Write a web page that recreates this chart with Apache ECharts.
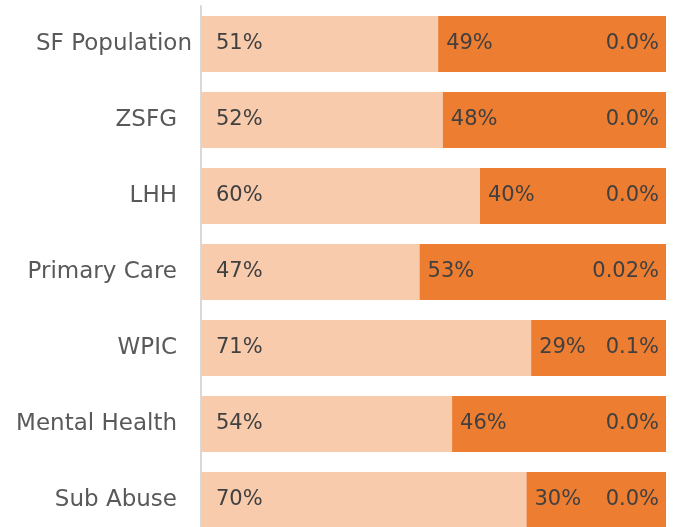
<!DOCTYPE html>
<html>
<head>
<meta charset="utf-8">
<script src="https://cdn.jsdelivr.net/npm/echarts@6/dist/echarts.min.js"></script>
<style>
  html, body { margin: 0; padding: 0; background: #fff; }
  #chart { width: 673px; height: 527px; }
</style>
</head>
<body>
<div id="chart"></div>
<script>
var categories = ["SF Population", "ZSFG", "LHH", "Primary Care", "WPIC", "Mental Health", "Sub Abuse"];
var shareA = [51, 52, 60, 47, 71, 54, 70];
var shareB = [49, 48, 40, 53, 29, 46, 30];
var shareC = [0.0, 0.0, 0.0, 0.02, 0.1, 0.0, 0.0];

var font = "DejaVu Sans";
var chart = echarts.init(document.getElementById("chart"));

// first category label sits a bit further right in the original
var yData = categories.map(function (c, i) {
  return i === 0 ? { value: c, textStyle: { padding: [0, -15, 0, 0] } } : c;
});

// the top "0.0%" label has a leader line in the original
var cData = shareC.map(function (v, i) {
  return i === 0 ? { value: v, labelLine: { show: true, lineStyle: { color: "#a6a6a6", width: 1.5 } } } : v;
});

var pct = function (p) { return p.value + "%"; };

var option = {
  animation: false,
  grid: {
    left: 201, right: 7, top: 6, height: 532,
    containLabel: false,
    outerBoundsMode: "none"
  },
  xAxis: {
    type: "value",
    min: 0,
    max: 100,
    show: false
  },
  yAxis: {
    type: "category",
    inverse: true,
    data: yData,
    axisTick: { show: false },
    axisLine: { show: true, lineStyle: { color: "#d9d9d9", width: 2 } },
    axisLabel: {
      margin: 24,
      fontFamily: font,
      fontSize: 23,
      color: "#595959"
    }
  },
  series: [
    {
      type: "bar",
      stack: "total",
      barWidth: "74%",
      data: shareA,
      itemStyle: { color: "#F8CBAD" },
      label: {
        show: true,
        position: "insideLeft",
        distance: 15,
        fontFamily: font,
        fontSize: 21,
        color: "#404040",
        formatter: pct
      }
    },
    {
      type: "bar",
      stack: "total",
      data: shareB,
      itemStyle: { color: "#ED7D31" },
      label: {
        show: true,
        position: "insideLeft",
        distance: 8,
        fontFamily: font,
        fontSize: 21,
        color: "#404040",
        formatter: pct
      }
    },
    {
      type: "bar",
      stack: "total",
      data: cData,
      itemStyle: { color: "#FFC000" },
      label: {
        show: true,
        position: "left",
        distance: 7,
        fontFamily: font,
        fontSize: 21,
        color: "#404040",
        formatter: function (p) { return p.value === 0 ? "0.0%" : p.value + "%"; }
      }
    }
  ]
};

chart.setOption(option);
</script>
</body>
</html>
